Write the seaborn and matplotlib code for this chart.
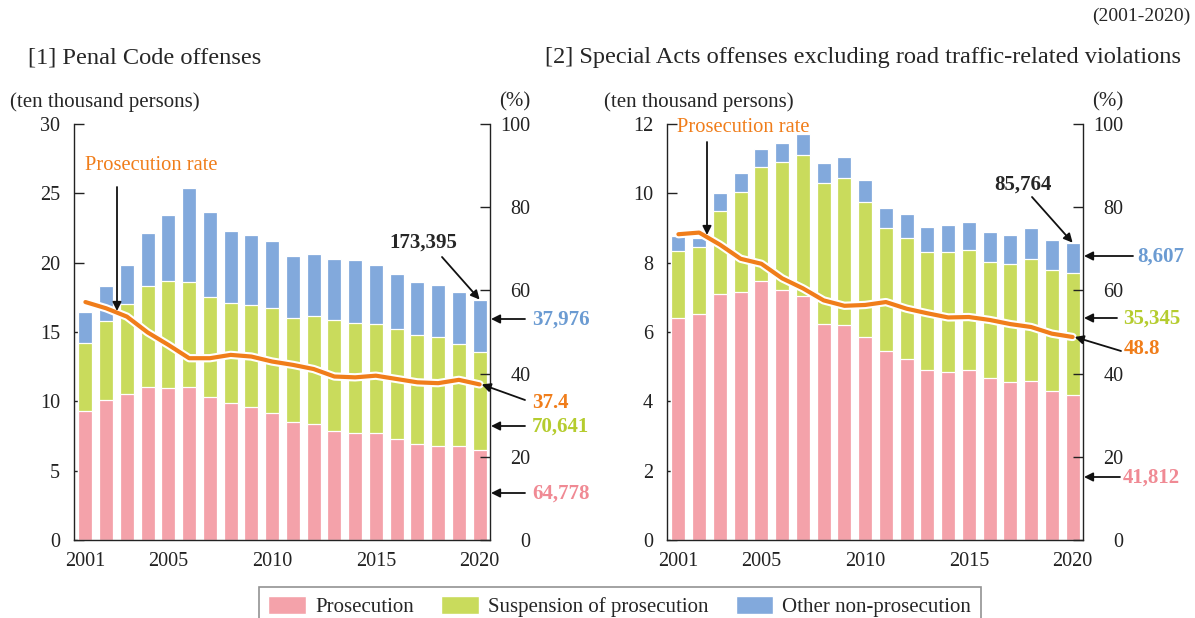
import numpy as np
import matplotlib
matplotlib.use("Agg")
import matplotlib.pyplot as plt
import matplotlib.patheffects as pe
from matplotlib.patches import Patch
import seaborn as sns

# Data (ten thousand persons, prosecution rate in %)
years = list(range(2001, 2021))

penal_pros = [9.33, 10.10, 10.56, 11.02, 10.95, 11.02, 10.30, 9.86, 9.62, 9.14,
              8.54, 8.37, 7.89, 7.75, 7.75, 7.31, 6.95, 6.81, 6.81, 6.4778]
penal_susp = [4.86, 5.68, 6.47, 7.29, 7.74, 7.62, 7.26, 7.20, 7.36, 7.60,
              7.48, 7.75, 7.94, 7.89, 7.84, 7.94, 7.84, 7.86, 7.29, 7.0641]
penal_other = [2.26, 2.55, 2.82, 3.82, 4.74, 6.71, 6.11, 5.22, 5.03, 4.79,
               4.48, 4.54, 4.42, 4.54, 4.26, 3.95, 3.81, 3.73, 3.77, 3.7976]
penal_rate = [57.2, 55.7, 53.7, 49.9, 46.9, 43.7, 43.7, 44.5, 44.1, 42.9,
              42.1, 41.1, 39.3, 39.1, 39.5, 38.7, 37.9, 37.7, 38.5, 37.4]

special_pros = [6.41, 6.53, 7.09, 7.16, 7.47, 7.22, 7.05, 6.23, 6.19, 5.85,
                5.45, 5.22, 4.89, 4.84, 4.89, 4.68, 4.55, 4.59, 4.29, 4.1812]
special_susp = [1.92, 1.91, 2.41, 2.89, 3.29, 3.69, 4.07, 4.07, 4.25, 3.90,
                3.56, 3.50, 3.41, 3.48, 3.47, 3.35, 3.42, 3.51, 3.51, 3.5345]
special_other = [0.43, 0.28, 0.50, 0.55, 0.52, 0.53, 0.59, 0.57, 0.60, 0.63,
                 0.58, 0.68, 0.72, 0.76, 0.82, 0.86, 0.84, 0.89, 0.86, 0.8607]
special_rate = [73.5, 73.9, 71.0, 67.6, 66.4, 62.9, 60.5, 57.6, 56.3, 56.5,
                57.2, 55.6, 54.5, 53.5, 53.6, 52.9, 51.9, 51.2, 49.6, 48.8]

tick_years = [2001, 2005, 2010, 2015, 2020]

PINK = "#F4A2AA"
GREEN = "#C9DB5C"
BLUE = "#82A9DC"
ORANGE = "#F07D1A"
PINK_T = "#F08A94"
GREEN_T = "#B5CC2E"
BLUE_T = "#6B9BD2"

sns.set_style("ticks")
plt.rcParams["font.family"] = ["Liberation Serif", "DejaVu Serif"]
plt.rcParams["font.size"] = 14

W, H = 1195, 618
fig = plt.figure(figsize=(W / 100, H / 100), dpi=100)


def fp(x, y):
    # reference pixel -> figure fraction
    return (x / W, 1 - y / H)


def draw_panel(left, width, pros, susp, other, rate, ymax, ystep):
    ax = fig.add_axes([left / W, 1 - 540 / H, width / W, 416 / H])
    pros = np.array(pros)
    mid = pros + np.array(susp)
    total = mid + np.array(other)
    # stacked look: totals first, then overlay the lower parts
    for vals, col in [(total, BLUE), (mid, GREEN), (pros, PINK)]:
        sns.barplot(x=years, y=vals, color=col, saturation=1, width=0.68,
                    edgecolor="white", linewidth=0.9, ax=ax)
    ax.set_xlim(-0.55, 19.5)
    ax.set_ylim(0, ymax)
    ax.set_yticks(np.arange(0, ymax + 0.01, ystep))
    ax.set_yticklabels([f"{v:g}" for v in np.arange(0, ymax + 0.01, ystep)])
    ax.set_xticks([years.index(y) for y in tick_years])
    ax.set_xticklabels([str(y) for y in tick_years])
    ax.set_xlabel("")
    ax.set_ylabel("")
    ax.tick_params(axis="x", length=0, pad=9, labelsize=14.5, colors="#222222")
    ax.tick_params(axis="y", direction="in", length=7, width=1, pad=10,
                   labelsize=14.5, colors="#222222")
    for s in ["top", "right"]:
        ax.spines[s].set_visible(False)
    for s in ["left", "bottom"]:
        ax.spines[s].set_color("#222222")
        ax.spines[s].set_linewidth(1.0)

    ax2 = ax.twinx()
    sns.lineplot(x=np.arange(len(years)), y=rate, color=ORANGE, lw=3, ax=ax2,
                 path_effects=[pe.Stroke(linewidth=6, foreground="white"), pe.Normal()])
    ax2.set_xlim(-0.55, 19.5)
    ax2.set_ylim(0, 100)
    ax2.set_yticks(range(0, 101, 20))
    ax2.set_ylabel("")
    ax2.tick_params(axis="y", direction="in", length=7, width=1, pad=29,
                    labelsize=14.5, colors="#222222")
    for lab in ax2.get_yticklabels():
        lab.set_horizontalalignment("right")
    for s in ["top", "left", "bottom"]:
        ax2.spines[s].set_visible(False)
    ax2.spines["right"].set_color("#222222")
    ax2.spines["right"].set_linewidth(1.0)
    return ax, ax2


axL, axL2 = draw_panel(74, 416, penal_pros, penal_susp, penal_other, penal_rate, 30, 5)
axR, axR2 = draw_panel(667, 416, special_pros, special_susp, special_other, special_rate, 12, 2)

arrow = dict(arrowstyle="-|>", color="#111111", lw=1.3, mutation_scale=13,
             shrinkA=0, shrinkB=0)

# headers
fig.text(*fp(1190, 16), "(2001-2020)", ha="right", va="center", size=14)
fig.text(*fp(28, 58), "[1] Penal Code offenses", ha="left", va="center", size=17.6)
fig.text(*fp(545, 58), "[2] Special Acts offenses excluding road traffic-related violations",
         ha="left", va="center", size=17.6)
for xl, xr in [(10, 530), (604, 1123)]:
    fig.text(*fp(xl, 102), "(ten thousand persons)", ha="left", va="center", size=15)
    fig.text(*fp(xr, 102), "(%)", ha="right", va="center", size=15)

# prosecution rate callouts
fig.text(*fp(85, 166), "Prosecution rate", color=ORANGE, ha="left", va="center", size=14.8)
axL2.annotate("", xy=fp(117, 311), xycoords="figure fraction",
              xytext=fp(117, 187), textcoords="figure fraction", arrowprops=arrow)
fig.text(*fp(677, 127), "Prosecution rate", color=ORANGE, ha="left", va="center", size=14.8)
axR2.annotate("", xy=fp(707, 235), xycoords="figure fraction",
              xytext=fp(707, 142), textcoords="figure fraction", arrowprops=arrow)

# left panel 2020 labels
last = len(years) - 1
axL.annotate("", xy=(last, sum([penal_pros[-1], penal_susp[-1], penal_other[-1]])),
             xycoords="data", xytext=fp(442, 257), textcoords="figure fraction",
             arrowprops=arrow)
fig.text(*fp(423, 243), "173,395", ha="center", va="center", size=15, weight="bold")
axL2.annotate("", xy=(last + 0.1, penal_rate[-1]), xycoords="data",
              xytext=fp(525, 400), textcoords="figure fraction", arrowprops=arrow)
for y, txt, col in [(319, "37,976", BLUE_T), (426, "70,641", GREEN_T), (493, "64,778", PINK_T)]:
    axL2.annotate("", xy=fp(491, y), xycoords="figure fraction",
                  xytext=fp(525, y), textcoords="figure fraction", arrowprops=arrow)
    fig.text(*fp(532, y + 1), txt, color=col, ha="left", va="center", size=15, weight="bold")
fig.text(*fp(532, 403), "37.4", color=ORANGE, ha="left", va="center", size=15, weight="bold")

# right panel 2020 labels
axR.annotate("", xy=(last, sum([special_pros[-1], special_susp[-1], special_other[-1]])),
             xycoords="data", xytext=fp(1032, 197), textcoords="figure fraction",
             arrowprops=arrow)
fig.text(*fp(1023, 185), "85,764", ha="center", va="center", size=15, weight="bold")
axR2.annotate("", xy=(last + 0.1, special_rate[-1]), xycoords="data",
              xytext=fp(1121, 351), textcoords="figure fraction", arrowprops=arrow)
for y, x0, xt, txt, col in [(256, 1133, 1137, "8,607", BLUE_T),
                            (318, 1117, 1123, "35,345", GREEN_T),
                            (477, 1120, 1123, "41,812", PINK_T)]:
    axR2.annotate("", xy=fp(1084, y), xycoords="figure fraction",
                  xytext=fp(x0, y), textcoords="figure fraction", arrowprops=arrow)
    fig.text(*fp(xt, y + 1), txt, color=col, ha="left", va="center", size=15, weight="bold")
fig.text(*fp(1124, 349), "48.8", color=ORANGE, ha="left", va="center", size=15, weight="bold")

# legend
handles = [Patch(facecolor=PINK, edgecolor="white", label="Prosecution"),
           Patch(facecolor=GREEN, edgecolor="white", label="Suspension of prosecution"),
           Patch(facecolor=BLUE, edgecolor="white", label="Other non-prosecution")]
leg = fig.legend(handles=handles, loc="upper left", bbox_to_anchor=fp(259, 587), ncol=3,
                 frameon=True, fancybox=False, edgecolor="#777777", fontsize=15,
                 handlelength=1.8, handleheight=0.9, handletextpad=0.45,
                 columnspacing=1.3, borderpad=0.45, borderaxespad=0)
leg.get_frame().set_linewidth(1.2)

fig.savefig("out.png", dpi=100)
